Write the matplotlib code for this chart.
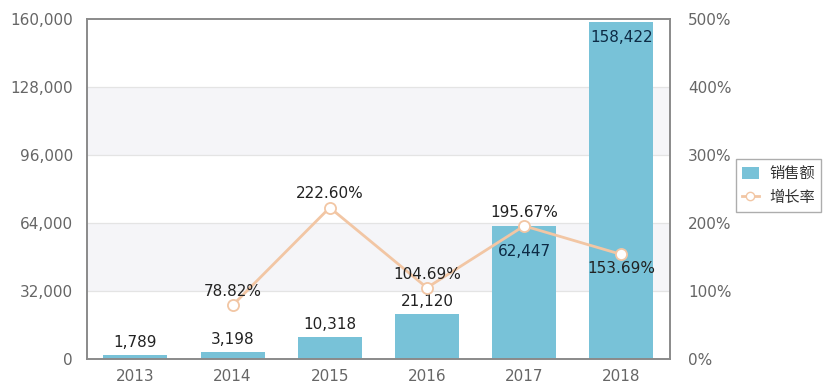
import matplotlib.pyplot as plt
from matplotlib.patches import Patch
from matplotlib.lines import Line2D

plt.rcParams['font.family'] = ['DejaVu Sans', 'Noto Sans CJK SC']

years = ['2013', '2014', '2015', '2016', '2017', '2018']
sales = [1789, 3198, 10318, 21120, 62447, 158422]
growth_years = ['2014', '2015', '2016', '2017', '2018']
growth = [78.82, 222.60, 104.69, 195.67, 153.69]

bar_color = '#78c2d8'
line_color = '#f2c6a4'
axis_color = '#8a8a8a'
tick_color = '#666666'
label_color = '#222222'

fig = plt.figure(figsize=(8.27, 3.88), dpi=100)
ax = fig.add_axes([0.105, 0.075, 0.705, 0.876])
ax2 = ax.twinx()

x = list(range(len(years)))
ax.set_xlim(-0.5, len(years) - 0.5)
ax.set_ylim(0, 160000)

# alternating background bands + grid
for lo in (32000, 96000):
    ax.axhspan(lo, lo + 32000, color='#f5f5f8', zorder=0, lw=0)
for y in range(32000, 160000, 32000):
    ax.axhline(y, color='#e4e4e4', lw=0.9, zorder=0.5)

ax.bar(x, sales, width=0.66, color=bar_color, zorder=2)

# bar value labels (two biggest sit inside the bar)
inside_offset = {'2017': 8500, '2018': 3500}
for i, (yr, v) in enumerate(zip(years, sales)):
    txt = f'{v:,}'
    if yr in inside_offset:
        ax.text(i, v - inside_offset[yr], txt, ha='center', va='top',
                fontsize=11, color='#0d2b45', zorder=5)
    else:
        ax.text(i, v + 2500, txt, ha='center', va='bottom', fontsize=11,
                color=label_color, zorder=5)

ax.set_yticks(range(0, 160001, 32000))
ax.set_yticklabels([f'{t:,}' for t in range(0, 160001, 32000)])
ax.set_xticks(x)
ax.set_xticklabels(years)
ax.tick_params(axis='both', colors=tick_color, labelsize=11, length=0)
ax.tick_params(axis='y', pad=10)
ax.tick_params(axis='x', pad=7)

# growth line on right axis
gx = [years.index(y) for y in growth_years]
ax2.set_ylim(0, 500)
ax2.plot(gx, growth, color=line_color, lw=2, zorder=3,
         marker='o', markersize=8, markerfacecolor='white',
         markeredgecolor=line_color, markeredgewidth=1.3)
for xi, g in zip(gx, growth):
    if g == 153.69:
        ax2.text(xi, g - 9, f'{g:.2f}%', ha='center', va='top', fontsize=11,
                 color=label_color, zorder=5)
    else:
        ax2.text(xi, g + 9, f'{g:.2f}%', ha='center', va='bottom', fontsize=11,
                 color=label_color, zorder=5)
ax2.set_yticks(range(0, 501, 100))
ax2.set_yticklabels([f'{t}%' for t in range(0, 501, 100)])
ax2.tick_params(axis='y', colors=tick_color, labelsize=11, length=0, pad=13)

for a in (ax, ax2):
    for s in a.spines.values():
        s.set_color(axis_color)
        s.set_linewidth(1.2)
ax.set_zorder(ax2.get_zorder() - 1)
ax2.patch.set_visible(False)

handles = [Patch(facecolor=bar_color, edgecolor='none'),
           Line2D([0], [0], color=line_color, lw=2, marker='o', markersize=6,
                  markerfacecolor='white', markeredgecolor=line_color)]
leg = fig.legend(handles, ['销售额', '增长率'], loc='upper right',
                 bbox_to_anchor=(0.993, 0.59), borderaxespad=0,
                 frameon=True, fancybox=False,
                 fontsize=11, handlelength=1.1, handleheight=0.9,
                 borderpad=0.4, labelspacing=0.45, handletextpad=0.7)
leg.get_frame().set_edgecolor('#999999')
leg.get_frame().set_linewidth(1.0)
for t in leg.get_texts():
    t.set_color('#333333')
    t.set_family(['Noto Sans CJK SC'])

fig.savefig('out.png', dpi=100)
